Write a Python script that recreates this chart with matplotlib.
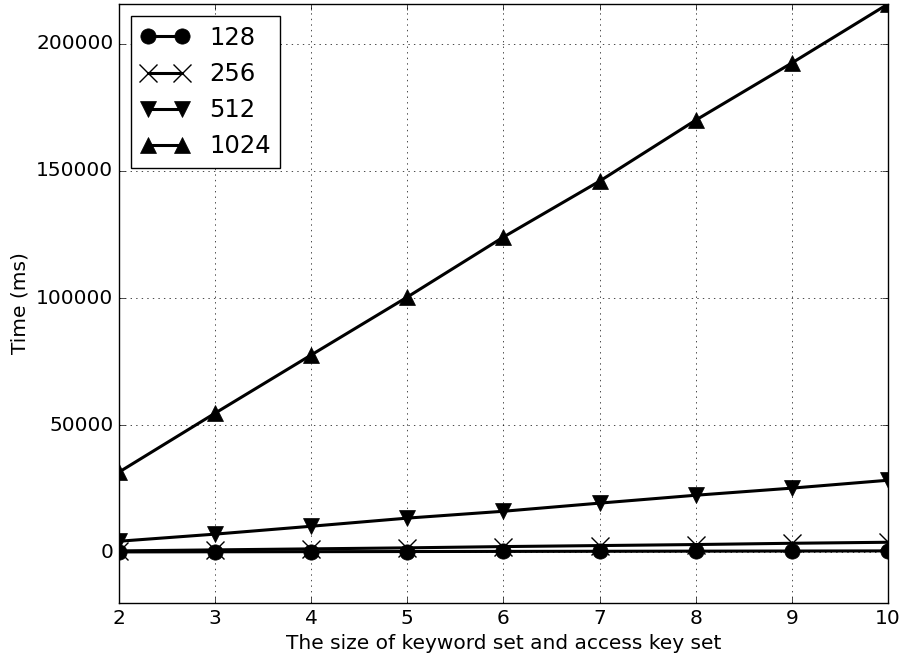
import numpy as np
import matplotlib
matplotlib.use('Agg')
import matplotlib.pyplot as plt

plt.style.use('classic')

sizes = [2, 3, 4, 5, 6, 7, 8, 9, 10]
t128 = [100, 150, 200, 250, 300, 350, 400, 450, 500]
t256 = [500, 900, 1300, 1700, 2200, 2600, 3000, 3500, 3900]
t512 = [4300, 7100, 10200, 13400, 16100, 19300, 22400, 25200, 28300]
t1024 = [31500, 54700, 77600, 100400, 124000, 146000, 170000, 192500, 215700]

fig = plt.figure(figsize=(9.04, 6.57), dpi=100)
fig.patch.set_facecolor('white')
ax = fig.add_axes([0.1316, 0.0822, 0.8507, 0.9117])

ax.plot(sizes, t128, 'k-o', lw=2.2, ms=11, label='128')
ax.plot(sizes, t256, 'k-x', lw=2.2, ms=13, mew=1, label='256')
ax.plot(sizes, t512, 'k-v', lw=2.2, ms=11, label='512')
ax.plot(sizes, t1024, 'k-^', lw=2.2, ms=11, label='1024')

ax.set_xlim(2, 10)
ax.set_ylim(-20000, 215700)
ax.set_yticks([0, 50000, 100000, 150000, 200000])
ax.grid(True)
ax.tick_params(labelsize=14.5)
ax.set_xlabel('The size of keyword set and access key set', fontsize=14.5)
ax.set_ylabel('Time (ms)', fontsize=14.5)
ax.legend(loc='upper left', fontsize=17.5, numpoints=2, borderaxespad=0.5)

fig.savefig('out.png', dpi=100)
